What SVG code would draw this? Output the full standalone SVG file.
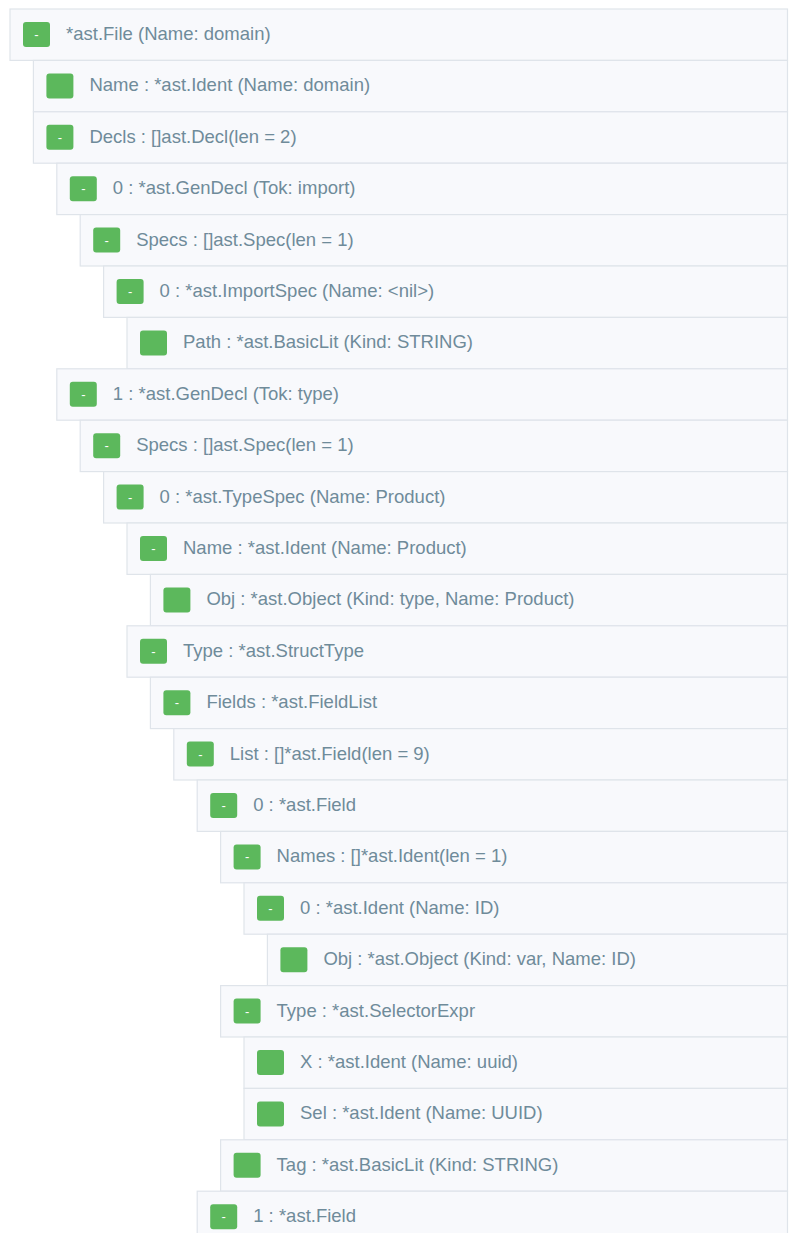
<svg xmlns="http://www.w3.org/2000/svg" width="800" height="1233" viewBox="0 0 800 1233">
<style>
.row{fill:#f8f9fc;stroke:#dfe4ea;stroke-width:1.2}
.btn{fill:#5cb85c}
.dash{fill:#ffffff;font-family:"Liberation Sans",Arial,sans-serif;font-size:13px;text-anchor:middle}
.lbl{fill:#6f8b9a;font-family:"Liberation Sans",Arial,sans-serif;font-size:18.5px}
</style>
<rect width="800" height="1233" fill="#ffffff"/>
<g id="n0"><rect class="row" x="10" y="9" width="777.5" height="51.4"/><rect class="btn" x="23" y="22" width="27" height="25" rx="3"/><text class="dash" x="36.5" y="39">-</text><text class="lbl" x="66" y="40">*ast.File (Name: domain)</text></g>
<g id="n1"><rect class="row" x="33.4" y="60.4" width="754.1" height="51.4"/><rect class="btn" x="46.4" y="73.4" width="27" height="25" rx="3"/><text class="lbl" x="89.4" y="91.4">Name : *ast.Ident (Name: domain)</text></g>
<g id="n2"><rect class="row" x="33.4" y="111.8" width="754.1" height="51.4"/><rect class="btn" x="46.4" y="124.8" width="27" height="25" rx="3"/><text class="dash" x="59.9" y="141.8">-</text><text class="lbl" x="89.4" y="142.8">Decls : []ast.Decl(len = 2)</text></g>
<g id="n3"><rect class="row" x="56.8" y="163.2" width="730.7" height="51.4"/><rect class="btn" x="69.8" y="176.2" width="27" height="25" rx="3"/><text class="dash" x="83.3" y="193.2">-</text><text class="lbl" x="112.8" y="194.2">0 : *ast.GenDecl (Tok: import)</text></g>
<g id="n4"><rect class="row" x="80.2" y="214.6" width="707.3" height="51.4"/><rect class="btn" x="93.2" y="227.6" width="27" height="25" rx="3"/><text class="dash" x="106.7" y="244.6">-</text><text class="lbl" x="136.2" y="245.6">Specs : []ast.Spec(len = 1)</text></g>
<g id="n5"><rect class="row" x="103.6" y="266" width="683.9" height="51.4"/><rect class="btn" x="116.6" y="279" width="27" height="25" rx="3"/><text class="dash" x="130.1" y="296">-</text><text class="lbl" x="159.6" y="297">0 : *ast.ImportSpec (Name: &lt;nil&gt;)</text></g>
<g id="n6"><rect class="row" x="127" y="317.4" width="660.5" height="51.4"/><rect class="btn" x="140" y="330.4" width="27" height="25" rx="3"/><text class="lbl" x="183" y="348.4">Path : *ast.BasicLit (Kind: STRING)</text></g>
<g id="n7"><rect class="row" x="56.8" y="368.8" width="730.7" height="51.4"/><rect class="btn" x="69.8" y="381.8" width="27" height="25" rx="3"/><text class="dash" x="83.3" y="398.8">-</text><text class="lbl" x="112.8" y="399.8">1 : *ast.GenDecl (Tok: type)</text></g>
<g id="n8"><rect class="row" x="80.2" y="420.2" width="707.3" height="51.4"/><rect class="btn" x="93.2" y="433.2" width="27" height="25" rx="3"/><text class="dash" x="106.7" y="450.2">-</text><text class="lbl" x="136.2" y="451.2">Specs : []ast.Spec(len = 1)</text></g>
<g id="n9"><rect class="row" x="103.6" y="471.6" width="683.9" height="51.4"/><rect class="btn" x="116.6" y="484.6" width="27" height="25" rx="3"/><text class="dash" x="130.1" y="501.6">-</text><text class="lbl" x="159.6" y="502.6">0 : *ast.TypeSpec (Name: Product)</text></g>
<g id="n10"><rect class="row" x="127" y="523" width="660.5" height="51.4"/><rect class="btn" x="140" y="536" width="27" height="25" rx="3"/><text class="dash" x="153.5" y="553">-</text><text class="lbl" x="183" y="554">Name : *ast.Ident (Name: Product)</text></g>
<g id="n11"><rect class="row" x="150.4" y="574.4" width="637.1" height="51.4"/><rect class="btn" x="163.4" y="587.4" width="27" height="25" rx="3"/><text class="lbl" x="206.4" y="605.4">Obj : *ast.Object (Kind: type, Name: Product)</text></g>
<g id="n12"><rect class="row" x="127" y="625.8" width="660.5" height="51.4"/><rect class="btn" x="140" y="638.8" width="27" height="25" rx="3"/><text class="dash" x="153.5" y="655.8">-</text><text class="lbl" x="183" y="656.8">Type : *ast.StructType</text></g>
<g id="n13"><rect class="row" x="150.4" y="677.2" width="637.1" height="51.4"/><rect class="btn" x="163.4" y="690.2" width="27" height="25" rx="3"/><text class="dash" x="176.9" y="707.2">-</text><text class="lbl" x="206.4" y="708.2">Fields : *ast.FieldList</text></g>
<g id="n14"><rect class="row" x="173.8" y="728.6" width="613.7" height="51.4"/><rect class="btn" x="186.8" y="741.6" width="27" height="25" rx="3"/><text class="dash" x="200.3" y="758.6">-</text><text class="lbl" x="229.8" y="759.6">List : []*ast.Field(len = 9)</text></g>
<g id="n15"><rect class="row" x="197.2" y="780" width="590.3" height="51.4"/><rect class="btn" x="210.2" y="793" width="27" height="25" rx="3"/><text class="dash" x="223.7" y="810">-</text><text class="lbl" x="253.2" y="811">0 : *ast.Field</text></g>
<g id="n16"><rect class="row" x="220.6" y="831.4" width="566.9" height="51.4"/><rect class="btn" x="233.6" y="844.4" width="27" height="25" rx="3"/><text class="dash" x="247.1" y="861.4">-</text><text class="lbl" x="276.6" y="862.4">Names : []*ast.Ident(len = 1)</text></g>
<g id="n17"><rect class="row" x="244" y="882.8" width="543.5" height="51.4"/><rect class="btn" x="257" y="895.8" width="27" height="25" rx="3"/><text class="dash" x="270.5" y="912.8">-</text><text class="lbl" x="300" y="913.8">0 : *ast.Ident (Name: ID)</text></g>
<g id="n18"><rect class="row" x="267.4" y="934.2" width="520.1" height="51.4"/><rect class="btn" x="280.4" y="947.2" width="27" height="25" rx="3"/><text class="lbl" x="323.4" y="965.2">Obj : *ast.Object (Kind: var, Name: ID)</text></g>
<g id="n19"><rect class="row" x="220.6" y="985.6" width="566.9" height="51.4"/><rect class="btn" x="233.6" y="998.6" width="27" height="25" rx="3"/><text class="dash" x="247.1" y="1015.6">-</text><text class="lbl" x="276.6" y="1016.6">Type : *ast.SelectorExpr</text></g>
<g id="n20"><rect class="row" x="244" y="1037" width="543.5" height="51.4"/><rect class="btn" x="257" y="1050" width="27" height="25" rx="3"/><text class="lbl" x="300" y="1068">X : *ast.Ident (Name: uuid)</text></g>
<g id="n21"><rect class="row" x="244" y="1088.4" width="543.5" height="51.4"/><rect class="btn" x="257" y="1101.4" width="27" height="25" rx="3"/><text class="lbl" x="300" y="1119.4">Sel : *ast.Ident (Name: UUID)</text></g>
<g id="n22"><rect class="row" x="220.6" y="1139.8" width="566.9" height="51.4"/><rect class="btn" x="233.6" y="1152.8" width="27" height="25" rx="3"/><text class="lbl" x="276.6" y="1170.8">Tag : *ast.BasicLit (Kind: STRING)</text></g>
<g id="n23"><rect class="row" x="197.2" y="1191.2" width="590.3" height="51.4"/><rect class="btn" x="210.2" y="1204.2" width="27" height="25" rx="3"/><text class="dash" x="223.7" y="1221.2">-</text><text class="lbl" x="253.2" y="1222.2">1 : *ast.Field</text></g>
</svg>
